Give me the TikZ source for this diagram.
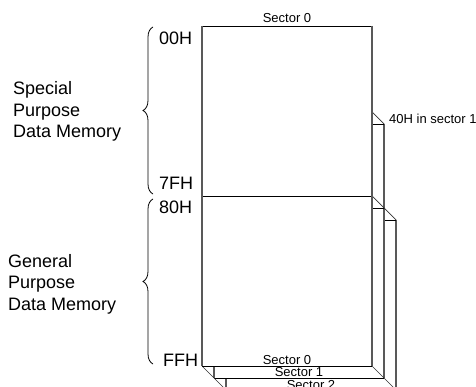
\documentclass[tikz,border=0pt]{standalone}
\usepackage{fontspec}
\setmainfont{Liberation Sans}
\usetikzlibrary{decorations.pathreplacing}
\begin{document}
\begin{tikzpicture}[x=1pt,y=-1pt,
  vline/.style={draw=black!65,line width=1.1pt},
  hline/.style={draw=black,line width=0.9pt},
  dline/.style={draw=black!80,line width=0.7pt},
  small/.style={font=\fontsize{13}{15}\selectfont,inner sep=0pt},
  big/.style={font=\fontsize{18}{21.5}\selectfont,inner sep=0pt},
  bracestyle/.style={draw=black,line width=0.8pt,decorate,decoration={brace,amplitude=10pt}}]
\clip (0,0) rectangle (476,387);
\fill[white] (0,0) rectangle (476,387);
% coordinates
\coordinate (tl) at (202,26);
\coordinate (tr) at (372,26);
\coordinate (ml) at (202,196);
\coordinate (m0r) at (372,196);
\coordinate (m1l) at (372,208);
\coordinate (m1r) at (384,208);
\coordinate (m2l) at (384,220);
\coordinate (m2r) at (396,220);
\coordinate (u0) at (372,112);
\coordinate (u1l) at (372,124);
\coordinate (u1) at (384,124);
\coordinate (b0l) at (202,366);
\coordinate (b0r) at (372,366);
\coordinate (b1l) at (214,378);
\coordinate (b1r) at (384,378);
\coordinate (b2l) at (226,390);
\coordinate (b2r) at (396,390);
\coordinate (k1) at (214,366);
\coordinate (k2) at (226,378);
% layer 2
\draw[vline] (m2r) -- (b2r);
\draw[hline] (m2l) -- (m2r);
\draw[vline] (k2) -- (b2l);
\draw[hline] (b2l) -- (b2r);
% layer 1
\draw[vline] (u1) -- (b1r);
\draw[hline] (u1l) -- (u1);
\draw[hline] (m1l) -- (m1r);
\draw[vline] (k1) -- (b1l);
\draw[hline] (b1l) -- (b1r);
% diagonals
\draw[dline] (u0) -- (u1);
\draw[dline] (m0r) -- (m1r) -- (m2r);
\draw[dline] (b0l) -- (b1l) -- (b2l);
\draw[dline] (b0r) -- (b1r) -- (b2r);
% front box
\draw[hline] (tl) -- (tr);
\draw[hline] (ml) -- (m0r);
\draw[hline] (b0l) -- (b0r);
\draw[vline] (tl) -- (b0l);
\draw[vline] (tr) -- (b0r);
% sector labels
\node[small,anchor=base] (s0top) at (287,23) {Sector 0};
\node[small,anchor=base] (s0bot) at (287,364) {Sector 0};
\node[small,anchor=base] (s1) at (299,376.5) {Sector 1};
\node[small,anchor=base] (s2) at (311,389) {Sector 2};
\node[small,anchor=base west] (h40) at (389,124) {40H in sector 1};
% addresses
\node[big,anchor=base west] (a00) at (159,45) {00H};
\node[big,anchor=base west] (a7f) at (159,190) {7FH};
\node[big,anchor=base west] (a80) at (159,214) {80H};
\node[big,anchor=base west] (aff) at (163,366) {FFH};
% left labels
\node[big,anchor=base west] (sp1) at (13,95) {Special};
\node[big,anchor=base west] (sp2) at (13,117) {Purpose};
\node[big,anchor=base west] (sp3) at (13,138) {Data Memory};
\node[big,anchor=base west] (gp1) at (8,267) {General};
\node[big,anchor=base west] (gp2) at (8,288) {Purpose};
\node[big,anchor=base west] (gp3) at (8,310) {Data Memory};
% braces
\coordinate (br1a) at (153,194);
\coordinate (br1b) at (153,27);
\coordinate (br2a) at (153,364);
\coordinate (br2b) at (153,199);
\draw[bracestyle] (br1a) -- (br1b);
\draw[bracestyle] (br2a) -- (br2b);
\end{tikzpicture}
\end{document}
